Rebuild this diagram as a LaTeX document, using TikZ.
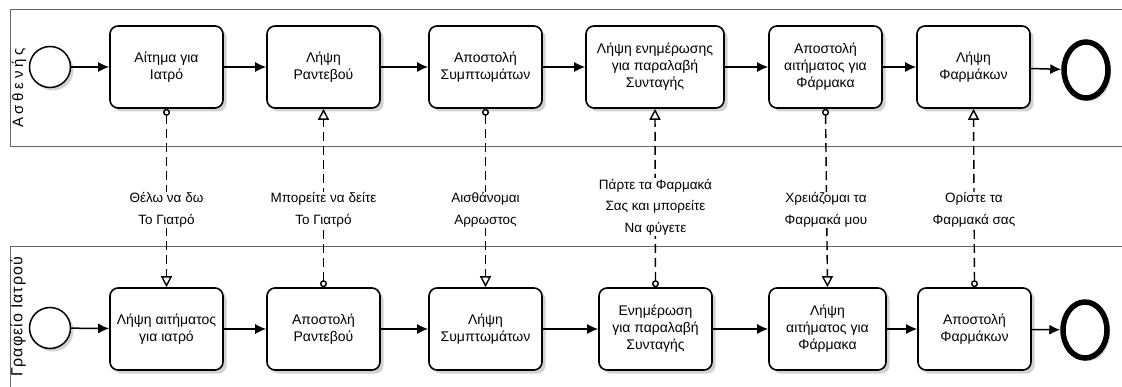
\documentclass[tikz,border=0pt]{standalone}
\usepackage{fontspec}
\setmainfont{Liberation Sans}
\usetikzlibrary{arrows.meta,shadows}
\tikzset{
  task/.style = {
    draw, line width=1.6pt, rounded corners=8pt, fill=white,
    minimum width=113pt, minimum height=82pt, align=center,
    font=\fontsize{14}{17}\selectfont,
    drop shadow={shadow xshift=3.5pt,shadow yshift=-3.5pt,fill=gray!70}
  },
  startev/.style = {
    circle, draw, line width=1.5pt, fill=white, minimum size=41pt,
    drop shadow={shadow xshift=3pt,shadow yshift=-3pt,fill=gray!70}
  },
  endev/.style = {
    ellipse, draw, line width=5.5pt, fill=white,
    minimum width=44pt, minimum height=56pt,
    drop shadow={shadow xshift=3pt,shadow yshift=-3pt,fill=gray!70}
  },
  seqflow/.style = {-{Latex[length=11pt,width=10pt]}, line width=1.5pt},
  msgflow/.style = {
    {Circle[open,length=7pt,width=7pt]}-{Triangle[open,length=11pt,width=11pt]},
    line width=1.4pt, dash pattern=on 9pt off 5pt
  },
  msglabel/.style = {fill=white, align=center, inner sep=1pt,
    font=\fontsize{13.5}{21.5}\selectfont},
  pool/.style = {draw=gray!80!black, line width=0.9pt},
  poollabel/.style = {rotate=90, font=\fontsize{15}{17}\selectfont}
}
\usetikzlibrary{shapes.geometric}

\begin{document}
\begin{tikzpicture}[x=1pt,y=-1pt]
  \useasboundingbox (0,0) rectangle (1122,387);
  % pools
  \draw[pool] (1122,9) -- (10,9) -- (10,146) -- (1122,146);
  \draw[pool] (1122,246) -- (10,246) -- (10,390);
  \node[poollabel] (pa) at (19,88) {\addfontfeature{LetterSpace=25}Ασθενής};
  \node[poollabel, font=\fontsize{16}{18}\selectfont] (pb) at (18,317)
    {\addfontfeature{LetterSpace=6}Γραφείο Ιατρού};
  % patient lane
  \node[startev] (ps) at (50,67) {};
  \node[task] (p1) at (166.5,67) {Αίτημα για\\Ιατρό};
  \node[task] (p2) at (323.5,67) {Λήψη\\Ραντεβού};
  \node[task] (p3) at (485.5,67) {Αποστολή\\Συμπτωμάτων};
  \node[task, minimum width=138pt] (p4) at (655,67) {Λήψη ενημέρωσης\\για παραλαβή\\Συνταγής};
  \node[task] (p5) at (825.5,67) {Αποστολή\\αιτήματος για\\Φάρμακα};
  \node[task] (p6) at (973.5,67) {Λήψη\\Φαρμάκων};
  \node[endev] (pe) at (1086,70) {};
  % office lane
  \node[startev] (ds) at (50,328) {};
  \node[task] (d1) at (166.5,329) {Λήψη αιτήματος\\για ιατρό};
  \node[task] (d2) at (323.5,329) {Αποστολή\\Ραντεβού};
  \node[task] (d3) at (485.5,329) {Λήψη\\Συμπτωμάτων};
  \node[task] (d4) at (655.5,329) {Ενημέρωση\\για παραλαβή\\Συνταγής};
  \node[task, minimum width=117pt] (d5) at (827.5,329) {Λήψη\\αιτήματος για\\Φάρμακα};
  \node[task] (d6) at (974.5,329) {Αποστολή\\Φαρμάκων};
  \node[endev] (de) at (1085,330) {};
  % sequence flows
  \foreach \a/\b in {ps/p1,p1/p2,p2/p3,p3/p4,p4/p5,p5/p6,p6/pe,
                     ds/d1,d1/d2,d2/d3,d3/d4,d4/d5,d5/d6,d6/de}
    { \draw[seqflow] (\a) -- (\b); };
  % message flows
  \draw[msgflow] (p1.south) -- (d1.north);
  \draw[msgflow] (d2.north) -- (p2.south);
  \draw[msgflow] (p3.south) -- (d3.north);
  \draw[msgflow] (d4.north) -- (p4.south);
  \draw[msgflow] (p5.south) -- (d5.north);
  \draw[msgflow] (d6.north) -- (p6.south);
  % message labels
  \node[msglabel] (m1) at (166.5,210) {Θέλω να δω\\Το Γιατρό};
  \node[msglabel] (m2) at (323.5,210) {Μπορείτε να δείτε\\Το Γιατρό};
  \node[msglabel] (m3) at (485.5,210) {Αισθάνομαι\\Αρρωστος};
  \node[msglabel] (m4) at (655.5,207) {Πάρτε τα Φαρμακά\\Σας και μπορείτε\\Να φύγετε};
  \node[msglabel] (m5) at (826,210) {Χρειάζομαι τα\\Φαρμακά μου};
  \node[msglabel] (m6) at (974,210) {Ορίστε τα\\Φαρμακά σας};
\end{tikzpicture}
\end{document}
